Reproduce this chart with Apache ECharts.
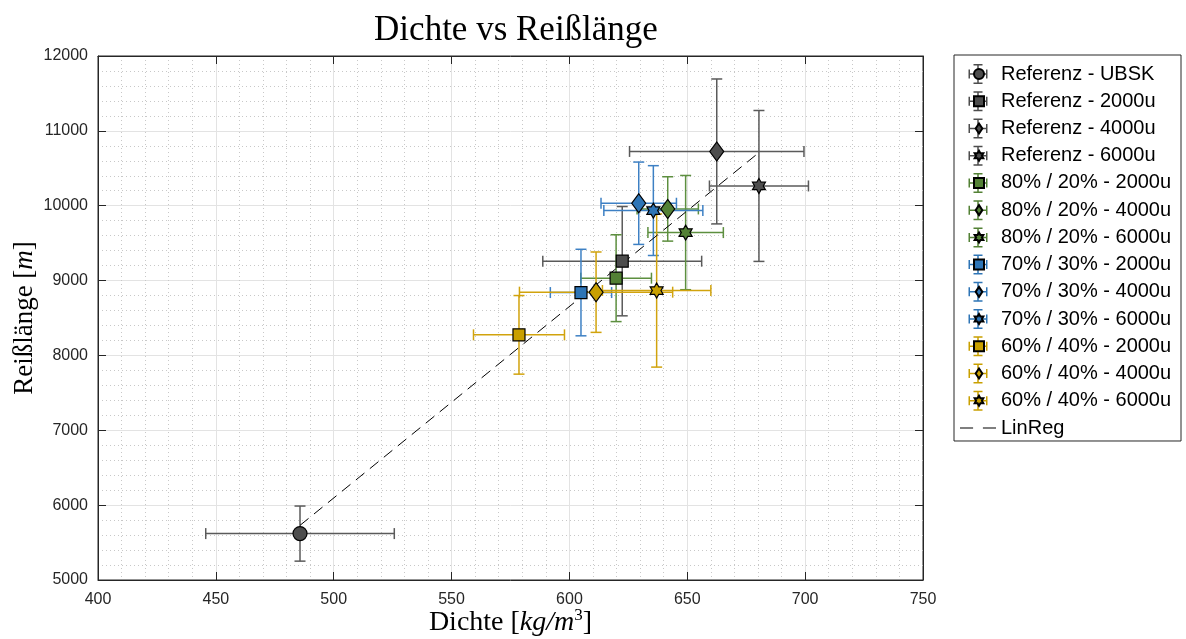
<!DOCTYPE html>
<html><head><meta charset="utf-8">
<script src="https://cdn.jsdelivr.net/npm/echarts@6/dist/echarts.min.js"></script>
<style>html,body{margin:0;padding:0;background:#fff}#c{width:1186px;height:639px}</style>
</head><body><div id="c"></div>
<script>
const seriesNames = ['Referenz - UBSK','Referenz - 2000u','Referenz - 4000u','Referenz - 6000u',
  '80% / 20% - 2000u','80% / 20% - 4000u','80% / 20% - 6000u',
  '70% / 30% - 2000u','70% / 30% - 4000u','70% / 30% - 6000u',
  '60% / 40% - 2000u','60% / 40% - 4000u','60% / 40% - 6000u'];
const dichte    = [485.7, 622.4, 662.5, 680.4, 619.8, 641.7, 649.3, 604.9, 629.4, 635.6, 578.6, 611.3, 637.0];
const dichteErr = [40, 33.7, 37, 21, 15, 13, 16, 13, 16, 21, 19.3, 32.5, 23];
const reiss     = [5620, 9259, 10725, 10264, 9032, 9957, 9641, 8840, 10033, 9935, 8275, 8845, 8867];
const reissErr  = [368, 730, 968, 1008, 580, 430, 763, 578, 550, 600, 525, 537, 1023];
const groupOf   = [0,0,0,0,1,1,1,2,2,2,3,3,3];
const shapeOf   = ['circle','square','diamond','hexagram','square','diamond','hexagram','square','diamond','hexagram','square','diamond','hexagram'];
const linRegX   = [485.7, 680.4];
const linRegY   = [5730, 10710];
const xTicks = {min:400, max:750, step:50};
const yTicks = {min:5000, max:12000, step:1000};

const markerColors = ['#4d4d4d','#538135','#2e75b6','#c9a000'];
const barColors    = ['#5a5a5a','#5d8f3f','#3d80c4','#d1a30d'];
const hexPath = 'path://M50 0L64.43 25L93.3 25L78.87 50L93.3 75L64.43 75L50 100L35.57 75L6.7 75L21.13 50L6.7 25L35.57 25Z';
const diaPath = 'path://M50 0L90 60L50 120L10 60Z';
const sqPath = 'path://M0 0h10v10h-10z';
const symbolMap = {circle:'circle', square:'rect', diamond:'diamond', hexagram:hexPath};
const sizeMap = {circle:14, square:12, diamond:[14,19], hexagram:15};
const legendIconMap = {circle:'circle', square:sqPath, diamond:diaPath, hexagram:hexPath};
const crossPath = 'path://M0 9.25h19v1.5h-19zM0 5.5h1.5v9h-1.5zM17.5 5.5h1.5v9h-1.5zM8.75 0h1.5v20h-1.5zM5 0h9v1.5h-9zM5 18.5h9v1.5h-9z';
const dashIcon = 'path://M0 0h12v1.1h-12zM21 0h12v1.1h-12z';

const axisColor = '#262626';
const sansFont = 'Liberation Sans';
const serifFont = 'Liberation Serif';

const series = [];
seriesNames.forEach((name, i) => {
  const g = groupOf[i];
  series.push({
    type:'scatter', name, z:5,
    symbol: symbolMap[shapeOf[i]], symbolSize: sizeMap[shapeOf[i]], symbolKeepAspect: shapeOf[i]==='hexagram',
    itemStyle:{color:markerColors[g], borderColor:'#000', borderWidth:1.2, opacity:1},
    emphasis:{disabled:true},
    data:[[dichte[i], reiss[i]]]
  });
});
seriesNames.forEach((name, i) => {
  const g = groupOf[i];
  series.push({
    type:'custom', name, z:3,
    itemStyle:{color:barColors[g]},
    encode:{x:0, y:1},
    data:[[dichte[i], reiss[i], dichteErr[i], reissErr[i]]],
    renderItem(params, api){
      const x = api.value(0), y = api.value(1), ex = api.value(2), ey = api.value(3);
      const l = api.coord([x-ex, y]), r = api.coord([x+ex, y]);
      const t = api.coord([x, y+ey]), b = api.coord([x, y-ey]);
      const cap = 5.5;
      const st = {stroke: barColors[g], lineWidth:1.5, fill:null};
      const ln = (x1,y1,x2,y2)=>({type:'line', shape:{x1,y1,x2,y2}, style:st});
      return {type:'group', children:[
        ln(l[0],l[1],r[0],r[1]),
        ln(l[0],l[1]-cap,l[0],l[1]+cap),
        ln(r[0],r[1]-cap,r[0],r[1]+cap),
        ln(t[0],t[1],b[0],b[1]),
        ln(t[0]-cap,t[1],t[0]+cap,t[1]),
        ln(b[0]-cap,b[1],b[0]+cap,b[1])
      ]};
    }
  });
});
series.push({
  type:'line', name:'LinReg', z:4, symbol:'none', showSymbol:false,
  lineStyle:{color:'#000', width:1, type:[11,7]},
  itemStyle:{color:'#000'},
  emphasis:{disabled:true},
  data: linRegX.map((x,k)=>[x, linRegY[k]])
});

const legendBase = {
  orient:'vertical', top:55, padding:[9,7,3,6],
  itemWidth:36, itemGap:7.23,
  textStyle:{fontSize:20, fontFamily:sansFont, color:'#000', width:173, lineHeight:18}
};

const plain = v => String(v);

const option = {
  animation:false,
  backgroundColor:'#fff',
  title:{
    text:'Dichte vs Reißlänge', left:511, top:8, textAlign:'center',
    textStyle:{fontFamily:serifFont, fontSize:35, fontWeight:'normal', color:'#000'}
  },
  grid:{left:98, right:263, top:56, bottom:59, outerBoundsMode:'none', containLabel:false,
        show:true, borderColor:axisColor, borderWidth:1, backgroundColor:'#fff'},
  xAxis:[{
    type:'value', min:xTicks.min, max:xTicks.max, interval:xTicks.step, position:'bottom',
    name:'{n|Dichte [}{i|kg/m}{s|3}{n|]}', nameLocation:'middle', nameGap:27, nameMoveOverlap:false,
    nameTextStyle:{rich:{
      n:{fontFamily:serifFont, fontSize:28, color:'#000', lineHeight:30, verticalAlign:'bottom'},
      i:{fontFamily:serifFont, fontSize:28, fontStyle:'italic', color:'#000', lineHeight:30, verticalAlign:'bottom'},
      s:{fontFamily:serifFont, fontSize:17, color:'#000', lineHeight:30, verticalAlign:'top'}
    }},
    axisLine:{show:true, onZero:false, lineStyle:{color:axisColor, width:1}},
    axisTick:{show:true, inside:true, length:8, lineStyle:{color:axisColor}},
    axisLabel:{fontSize:16, fontFamily:sansFont, color:axisColor, margin:12, formatter:plain},
    splitLine:{show:true, lineStyle:{color:'#e3e3e3', width:1}},
    minorTick:{show:false, splitNumber:5},
    minorSplitLine:{show:true, lineStyle:{color:'#c8c8c8', width:1, type:[1,3]}}
  },{
    type:'value', min:xTicks.min, max:xTicks.max, interval:xTicks.step, position:'top',
    axisLine:{show:true, onZero:false, lineStyle:{color:axisColor, width:1}},
    axisTick:{show:true, inside:true, length:8, lineStyle:{color:axisColor}},
    axisLabel:{show:false}, splitLine:{show:false}
  }],
  yAxis:[{
    type:'value', min:yTicks.min, max:yTicks.max, interval:yTicks.step, position:'left',
    name:'{n|Reißlänge [}{i|m}{n|]}', nameLocation:'middle', nameGap:60, nameMoveOverlap:false,
    nameTextStyle:{rich:{
      n:{fontFamily:serifFont, fontSize:27, color:'#000'},
      i:{fontFamily:serifFont, fontSize:27, fontStyle:'italic', color:'#000'}
    }},
    axisLine:{show:true, onZero:false, lineStyle:{color:axisColor, width:1}},
    axisTick:{show:true, inside:true, length:8, lineStyle:{color:axisColor}},
    axisLabel:{fontSize:16, fontFamily:sansFont, color:axisColor, margin:10, formatter:plain},
    splitLine:{show:true, lineStyle:{color:'#e3e3e3', width:1}},
    minorTick:{show:false, splitNumber:5},
    minorSplitLine:{show:true, lineStyle:{color:'#c8c8c8', width:1, type:[1,3]}}
  },{
    type:'value', min:yTicks.min, max:yTicks.max, interval:yTicks.step, position:'right',
    axisLine:{show:true, onZero:false, lineStyle:{color:axisColor, width:1}},
    axisTick:{show:true, inside:true, length:8, lineStyle:{color:axisColor}},
    axisLabel:{show:false}, splitLine:{show:false}
  }],
  legend:[
    Object.assign({}, legendBase, {
      left:954, itemHeight:20, borderColor:axisColor, borderWidth:1, backgroundColor:'#fff',
      itemStyle:{borderWidth:0},
      data: seriesNames.map(n=>({name:n, icon:crossPath})).concat([{name:'LinReg', icon:dashIcon, itemStyle:{color:'#000'}}])
    }),
    Object.assign({}, legendBase, {
      left:967, itemHeight:10, borderWidth:0, backgroundColor:'transparent', selectedMode:false,
      textStyle:Object.assign({}, legendBase.textStyle, {color:'transparent'}),
      data: seriesNames.map((n,i)=>({name:n, icon:legendIconMap[shapeOf[i]]}))
    })
  ],
  series
};
const chart = echarts.init(document.getElementById('c'), null, {renderer:'canvas'});
chart.setOption(option);
</script></body></html>
